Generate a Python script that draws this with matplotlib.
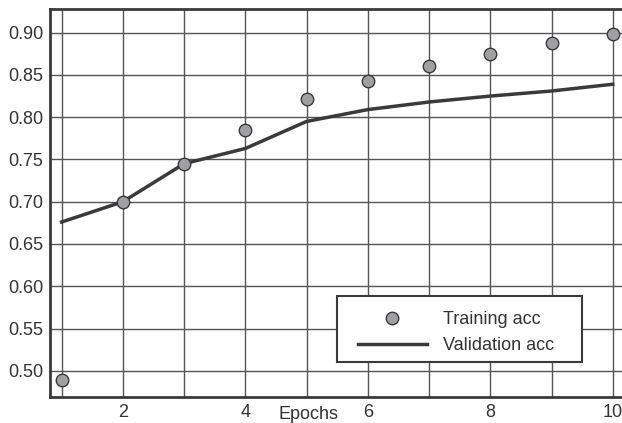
import matplotlib
matplotlib.use("Agg")
import matplotlib.pyplot as plt
from matplotlib.ticker import MultipleLocator
from matplotlib.patches import Rectangle

plt.rcParams['font.family'] = ['Liberation Sans', 'DejaVu Sans']

epochs = [1, 2, 3, 4, 5, 6, 7, 8, 9, 10]
train_acc = [0.489, 0.700, 0.745, 0.785, 0.821, 0.843, 0.860, 0.875, 0.888, 0.899]
val_acc = [0.676, 0.700, 0.745, 0.763, 0.795, 0.809, 0.818, 0.825, 0.831, 0.839]
x_ticks = [2, 4, 6, 8, 10]

fig = plt.figure(figsize=(6.22, 4.23), dpi=100)
ax = fig.add_axes([50/622, 26/423, 575/622, 388/423])

dark = '#3a3a3a'
ax.plot(epochs, train_acc, 'o', color='#a0a0a2', markeredgecolor=dark,
        markeredgewidth=1.0, markersize=9, label='Training acc', zorder=3)
ax.plot(epochs, val_acc, '-', color=dark, linewidth=2.5, label='Validation acc', zorder=2)

ax.set_xlim(0.81, 10.2)
ax.set_ylim(0.469, 0.928)
ax.set_xticks(x_ticks)
ax.xaxis.set_minor_locator(MultipleLocator(1))
ax.yaxis.set_major_locator(MultipleLocator(0.05))
ax.yaxis.set_major_formatter(matplotlib.ticker.FormatStrFormatter('%.2f'))
ax.grid(True, which='both', color='#555555', linewidth=1.0)
ax.set_axisbelow(True)
ax.tick_params(which='both', length=0, labelsize=13, colors='#333333', pad=5)
for s in ax.spines.values():
    s.set_color(dark)
    s.set_linewidth(2)

ax.set_xlabel('Epochs', fontsize=13, color='#333333')
ax.xaxis.set_label_coords(0.449, -0.022)

# legend frame drawn as a separate box, legend content placed inside it
frame = Rectangle((287/575, 35/388), 245/575, 66/388, transform=ax.transAxes,
                  facecolor='white', edgecolor=dark, linewidth=1.5, zorder=4)
ax.add_patch(frame)
leg = ax.legend(loc='upper left', bbox_to_anchor=(298/575, 96/388),
                fontsize=13, handlelength=3.8, borderpad=0.55,
                labelspacing=0.5, handletextpad=0.9, frameon=False,
                borderaxespad=0)
leg.set_zorder(5)
for t in leg.get_texts():
    t.set_color('#333333')

fig.savefig('out.png', dpi=100)
